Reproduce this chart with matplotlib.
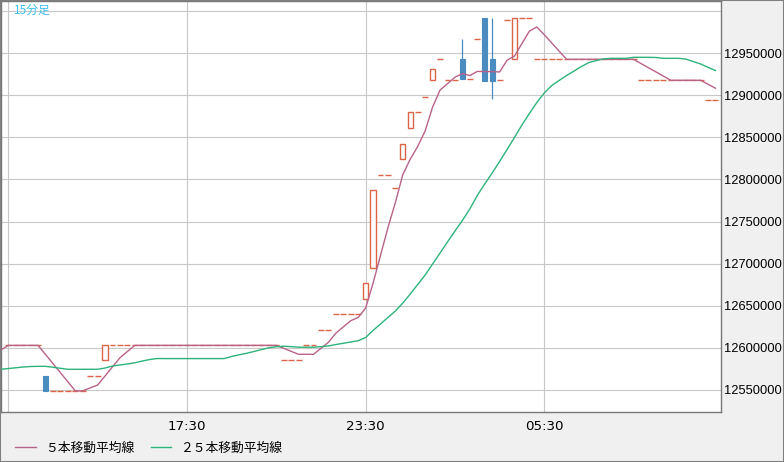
import matplotlib
matplotlib.use("Agg")
import matplotlib.pyplot as plt
from matplotlib.patches import Rectangle
from matplotlib.lines import Line2D

plt.rcParams['font.family'] = ['DejaVu Sans', 'Noto Sans CJK JP']

# 15-minute candles, index 0 = 11:30
opens = ([12603000] * 5 + [12566600] + [12549000] * 5 + [12566300] * 2 + [12585300]
         + [12603000] * 23 + [12585300] * 3 + [12603000] * 2 + [12620900] * 2 + [12639900] * 4
         + [12657700, 12694500, 12805000, 12805000, 12789500, 12824000, 12860600, 12879800,
            12897600, 12917800, 12942700, 12917800, 12917800, 12942700, 12919700, 12966500,
            12991800, 12942700, 12917800, 12989100, 12942700, 12991400, 12991400]
         + [12942700] * 14 + [12917800] * 9 + [12894400] * 2)
closes = ([12603000] * 5 + [12549000] + [12549000] * 5 + [12566300] * 2 + [12603000]
          + [12603000] * 23 + [12585300] * 3 + [12603000] * 2 + [12620900] * 2 + [12639900] * 4
          + [12676700, 12787500, 12805000, 12805000, 12789500, 12841800, 12879800, 12879800,
             12897600, 12930900, 12942700, 12917800, 12917800, 12919700, 12919700, 12966500,
             12917300, 12917300, 12917800, 12989100, 12991400, 12991400, 12991400]
          + [12942700] * 14 + [12917800] * 9 + [12894400] * 2)
highs = list(map(max, opens, closes))
lows = list(map(min, opens, closes))
highs[61] = 12966800
highs[65] = 12991800
lows[65] = 12895900

# moving averages, index -1 .. 95
ma5 = [12597500] + [12603000] * 5 + [12592200, 12581400, 12570600, 12559800, 12549000, 12549000,
       12552500, 12555900, 12566700, 12577500, 12588300, 12595700] + [12603000] * 20 + [
       12599500, 12595900, 12592400, 12592400, 12592400, 12599500, 12606600, 12617500,
       12624900, 12632300, 12636100, 12647300, 12676800, 12709800, 12742800, 12772700,
       12805800, 12824200, 12839200, 12857700, 12886000, 12906200, 12913800, 12921400,
       12925800, 12923500, 12928300, 12928200, 12928100, 12927700, 12941600, 12946600,
       12961400, 12976200, 12981200, 12971900, 12962200, 12952400] + [12942700] * 10 + [
       12937700, 12932700, 12927800, 12922800] + [12917800] * 5 + [12913100, 12908400]
ma25 = [12574600, 12575500, 12576400, 12577300, 12577900, 12578100, 12578100, 12577000,
        12575800, 12574600, 12574600, 12574600, 12574600, 12574600, 12576100, 12578500,
        12579700, 12580900, 12582300, 12584400, 12586200, 12587400] + [12587300] * 9 + [
        12589800, 12591800, 12593600, 12595700, 12598000, 12600100, 12601400, 12602000,
        12601500, 12600800, 12600800, 12600800, 12601500, 12602300, 12604000, 12605500,
        12607000, 12608500, 12612300, 12620700, 12628400, 12636100, 12643800, 12653300,
        12664000, 12675300, 12686600, 12699600, 12712700, 12725800, 12738800, 12751300,
        12765000, 12781000, 12794600, 12807700, 12821400, 12835600, 12849900, 12864700,
        12878400, 12891400, 12902700, 12911600, 12917600, 12923500, 12928800, 12934200,
        12938900, 12941300, 12943300, 12943900, 12943900, 12943900, 12945100, 12945100,
        12945100, 12944900, 12943900, 12943900, 12943900, 12943100, 12940100, 12937200,
        12933200, 12929400]

ytick_vals = [12550000, 12600000, 12650000, 12700000, 12750000, 12800000, 12850000, 12900000, 12950000, 13000000]
ytick_labels = [str(v) for v in ytick_vals[:-1]] + ['']
xtick_pos = [0, 24, 48, 72]
xtick_labels = ['', '17:30', '23:30', '05:30']

up_col = '#dd6446'
down_col = '#4a8bc0'
c5 = '#b8628a'
c25 = '#2db37a'

fig = plt.figure(figsize=(7.84, 4.62), dpi=100, facecolor='#f0f0f0')
ax = fig.add_axes([0.5 / 784, 50 / 462, 721 / 784, 411.5 / 462])
ax.set_facecolor('white')

w = 0.7
for i in range(len(opens)):
    o, h, l, c = opens[i], highs[i], lows[i], closes[i]
    if c > o:
        if h > c or l < o:
            ax.vlines(i, l, h, color=up_col, lw=0.8, zorder=2)
        ax.add_patch(Rectangle((i - w / 2, o), w, c - o, facecolor='white', edgecolor=up_col, lw=1, zorder=3))
    elif c < o:
        if h > o or l < c:
            ax.vlines(i, l, h, color=down_col, lw=0.9, zorder=2)
        ax.add_patch(Rectangle((i - w / 2, c), w, o - c, facecolor=down_col, edgecolor=down_col, lw=0.8, zorder=3))
    else:
        ax.hlines(c, i - w / 2 - 0.05, i + w / 2 + 0.05, color=up_col, lw=1, zorder=3)

xs = list(range(-1, len(ma5) - 1))
ax.plot(xs, ma5, color=c5, lw=1, zorder=4)
ax.plot(xs, ma25, color=c25, lw=1, zorder=4)

ax.set_xlim(-1.048, 95.81)
ax.set_ylim(12523870, 13012570)
ax.set_xticks(xtick_pos)
ax.set_xticklabels(xtick_labels)
ax.set_yticks(ytick_vals)
ax.set_yticklabels(ytick_labels, family='Liberation Sans')
ax.yaxis.tick_right()
ax.tick_params(axis='y', length=0, pad=2.0, labelsize=9.3, labelcolor='black')
ax.tick_params(axis='x', length=0, pad=6, labelsize=9.6, labelcolor='black')
ax.grid(True, color='#c8c8c8', lw=0.8)
ax.set_axisbelow(True)
for s in ax.spines.values():
    s.set_color('#777777')
    s.set_linewidth(1)

fig.text(14 / 784, 1 - 10 / 462, '15分足', color='#3cbfee', fontsize=8.5,
         va='center', ha='left', family=['Noto Sans CJK JP'])

handles = [Line2D([], [], color=c5, lw=1), Line2D([], [], color=c25, lw=1)]
fig.legend(handles, ['５本移動平均線', '２５本移動平均線'], loc='center left',
           bbox_to_anchor=(4 / 784, 1 - 448 / 462), ncol=2, frameon=False,
           prop={'family': ['Noto Sans CJK JP'], 'size': 9.2},
           handlelength=1.6, handletextpad=0.7, columnspacing=1.3, borderpad=0.4)

fig.add_artist(Rectangle((0, 0), 1, 1, transform=fig.transFigure, fill=False,
                         edgecolor='#808080', lw=1.5))

fig.savefig('out.png', dpi=100, facecolor=fig.get_facecolor())
